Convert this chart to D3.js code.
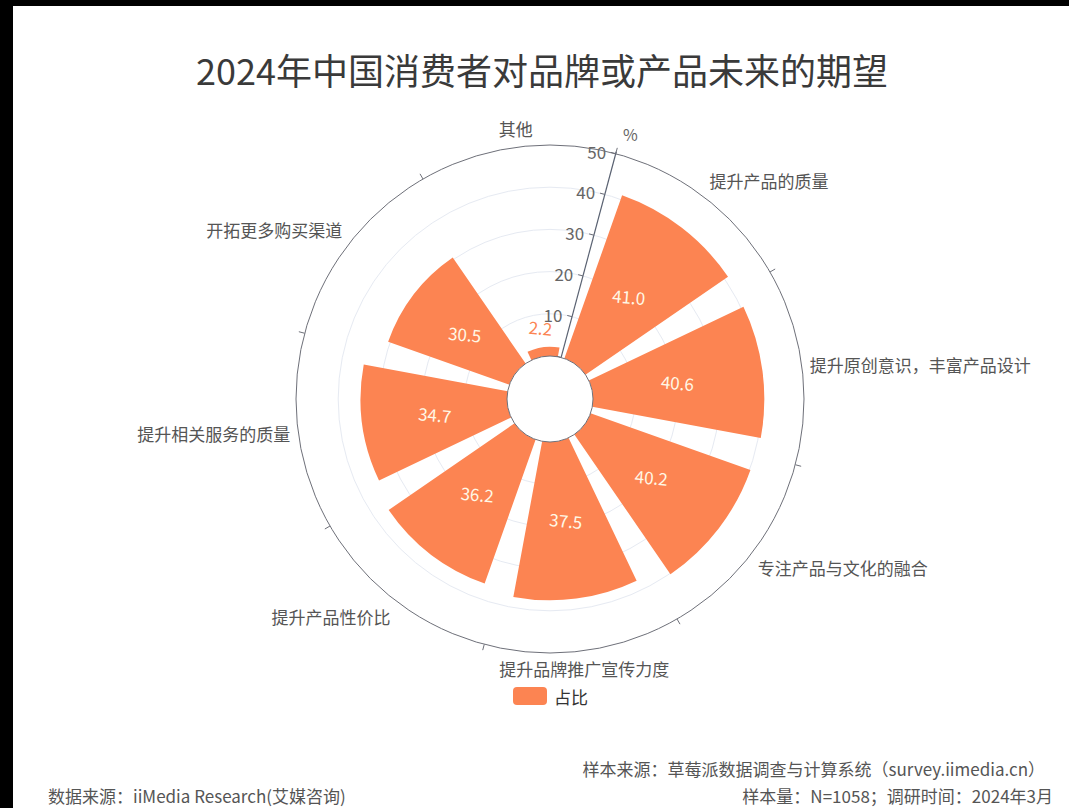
<!DOCTYPE html>
<html>
<head>
<meta charset="utf-8">
<script src="https://cdn.jsdelivr.net/npm/d3@7"></script>
<style>
  html, body { margin: 0; padding: 0; background: #fff; }
  svg { display: block; font-family: "Noto Sans CJK SC", "Noto Sans", sans-serif; }
</style>
</head>
<body>
<svg id="chart" width="1069" height="808"></svg>
<script>
// Survey results: what consumers expect from brands/products
const categories = [
  "提升产品的质量",
  "提升原创意识，丰富产品设计",
  "专注产品与文化的融合",
  "提升品牌推广宣传力度",
  "提升产品性价比",
  "提升相关服务的质量",
  "开拓更多购买渠道",
  "其他"
];
const shares = [41.0, 40.6, 40.2, 37.5, 36.2, 34.7, 30.5, 2.2];
const radiusTicks = [0, 10, 20, 30, 40, 50];
const seriesName = "占比";
const titleText = "2024年中国消费者对品牌或产品未来的期望";
const sourceText = "数据来源：iiMedia Research(艾媒咨询)";
const sampleSourceText = "样本来源：草莓派数据调查与计算系统（survey.iimedia.cn）";
const sampleInfoText = "样本量：N=1058；调研时间：2024年3月";

const svg = d3.select("#chart");
const W = 1069, H = 808;

// frame edges
svg.append("rect").attr("x", 0).attr("y", 0).attr("width", W).attr("height", 6).attr("fill", "#000");
svg.append("rect").attr("x", 0).attr("y", 0).attr("width", 13).attr("height", H).attr("fill", "#000");

// title
svg.append("text")
  .attr("x", 542).attr("y", 85)
  .attr("text-anchor", "middle")
  .attr("font-size", 36)
  .attr("fill", "#3a3a3a")
  .text(titleText);

const cx = 550, cy = 399;
const innerR = 43, outerR = 254;
const deg = Math.PI / 180;
const startAngle = 15 * deg;

const r = d3.scaleLinear().domain([0, 50]).range([innerR, outerR]);
const a = d3.scaleBand()
  .domain(categories)
  .range([startAngle, startAngle + 2 * Math.PI])
  .paddingInner(0.2)
  .paddingOuter(0.1);
const step = a.step();

const g = svg.append("g").attr("transform", `translate(${cx},${cy})`);
const px = (ang, rad) => [rad * Math.sin(ang), -rad * Math.cos(ang)];

// concentric split circles
g.append("g").selectAll("circle")
  .data(radiusTicks.filter(t => t > 0 && t < 50))
  .join("circle")
  .attr("r", d => r(d))
  .attr("fill", "none")
  .attr("stroke", "#E6EAF2")
  .attr("stroke-width", 1);

const boundaries = d3.range(categories.length).map(i => startAngle + i * step);

// radius axis labels (drawn beneath the bars)
const axisDir = [Math.sin(startAngle), -Math.cos(startAngle)];
const leftPerp = [-Math.cos(startAngle), -Math.sin(startAngle)];
g.append("g").selectAll("text")
  .data(radiusTicks)
  .join("text")
  .attr("x", d => axisDir[0] * r(d) + leftPerp[0] * 10)
  .attr("y", d => axisDir[1] * r(d) + leftPerp[1] * 10)
  .attr("text-anchor", "end")
  .attr("dominant-baseline", "central")
  .attr("font-size", 17)
  .attr("fill", "#666")
  .text(d => d);

// bars
const arc = d3.arc();
g.append("g").selectAll("path")
  .data(categories)
  .join("path")
  .attr("d", (c, i) => arc({
    innerRadius: innerR,
    outerRadius: r(shares[i]),
    startAngle: a(c),
    endAngle: a(c) + a.bandwidth()
  }))
  .attr("fill", "#fc8452");

// outer angle axis circle and inner circle
g.append("circle").attr("r", outerR).attr("fill", "none").attr("stroke", "#6E7079").attr("stroke-width", 1);
g.append("circle").attr("r", innerR).attr("fill", "#fff").attr("stroke", "#6E7079").attr("stroke-width", 1);

// value labels: centred in the bar, or just past its end when the bar is short
const minInside = 60;
g.append("g").selectAll("text")
  .data(categories)
  .join("text")
  .attr("transform", (c, i) => {
    const mid = a(c) + a.bandwidth() / 2;
    const len = r(shares[i]) - innerR;
    const rad = len >= minInside ? (innerR + r(shares[i])) / 2 : r(shares[i]) + 20;
    const p = px(mid, rad);
    return `translate(${p[0]},${p[1]}) rotate(5)`;
  })
  .attr("text-anchor", "middle")
  .attr("dominant-baseline", "central")
  .attr("font-size", 17)
  .attr("fill", (c, i) => (r(shares[i]) - innerR) >= minInside ? "#fff8e6" : "#fc8452")
  .text((c, i) => shares[i].toFixed(1));

// angle axis ticks
g.append("g").selectAll("line")
  .data(boundaries)
  .join("line")
  .attr("x1", d => px(d, outerR)[0]).attr("y1", d => px(d, outerR)[1])
  .attr("x2", d => px(d, outerR + 6)[0]).attr("y2", d => px(d, outerR + 6)[1])
  .attr("stroke", "#6E7079")
  .attr("stroke-width", 1);

// category labels around the circle
const labelR = outerR + 8;
g.append("g").selectAll("text")
  .data(categories)
  .join("text")
  .each(function(c) {
    const mid = a(c) + a.bandwidth() / 2;
    const p = px(mid, labelR);
    const rx = p[0] / labelR, ry = p[1] / labelR;
    const anchor = Math.abs(rx) < 0.3 ? "middle" : (rx > 0 ? "start" : "end");
    const base = Math.abs(ry) < 0.3 ? "central" : (ry > 0 ? "hanging" : "auto");
    const dy = Math.abs(ry) < 0.3 ? 0 : (ry > 0 ? 1 : -3);
    d3.select(this)
      .attr("x", p[0]).attr("y", p[1] + dy)
      .attr("text-anchor", anchor)
      .attr("dominant-baseline", base);
  })
  .attr("font-size", 17)
  .attr("fill", "#555")
  .text(c => c);

// radius axis line, ticks and name
g.append("line")
  .attr("x1", axisDir[0] * innerR).attr("y1", axisDir[1] * innerR)
  .attr("x2", axisDir[0] * (outerR + 2)).attr("y2", axisDir[1] * (outerR + 2))
  .attr("stroke", "#5a6272")
  .attr("stroke-width", 1.2);
g.append("g").selectAll("line")
  .data(radiusTicks)
  .join("line")
  .attr("x1", d => axisDir[0] * r(d)).attr("y1", d => axisDir[1] * r(d))
  .attr("x2", d => axisDir[0] * r(d) + leftPerp[0] * 5)
  .attr("y2", d => axisDir[1] * r(d) + leftPerp[1] * 5)
  .attr("stroke", "#6E7079")
  .attr("stroke-width", 1);
g.append("text")
  .attr("x", axisDir[0] * (outerR + 20) + 2)
  .attr("y", axisDir[1] * (outerR + 20))
  .attr("text-anchor", "start")
  .attr("dominant-baseline", "central")
  .attr("font-size", 16)
  .attr("fill", "#666")
  .text("%");

// legend
const legend = svg.append("g").attr("transform", "translate(513,687)");
legend.append("rect")
  .attr("width", 34).attr("height", 18).attr("rx", 4)
  .attr("fill", "#fc8452");
legend.append("text")
  .attr("x", 41).attr("y", 9)
  .attr("dominant-baseline", "central")
  .attr("font-size", 17)
  .attr("fill", "#333")
  .text(seriesName);

// footnotes
svg.append("text")
  .attr("x", 48).attr("y", 803)
  .attr("font-size", 17).attr("fill", "#555")
  .text(sourceText);
svg.append("text")
  .attr("x", 1045).attr("y", 776)
  .attr("text-anchor", "end")
  .attr("font-size", 17).attr("fill", "#555")
  .text(sampleSourceText);
svg.append("text")
  .attr("x", 1053).attr("y", 803)
  .attr("text-anchor", "end")
  .attr("font-size", 17).attr("fill", "#555")
  .text(sampleInfoText);
</script>
</body>
</html>
